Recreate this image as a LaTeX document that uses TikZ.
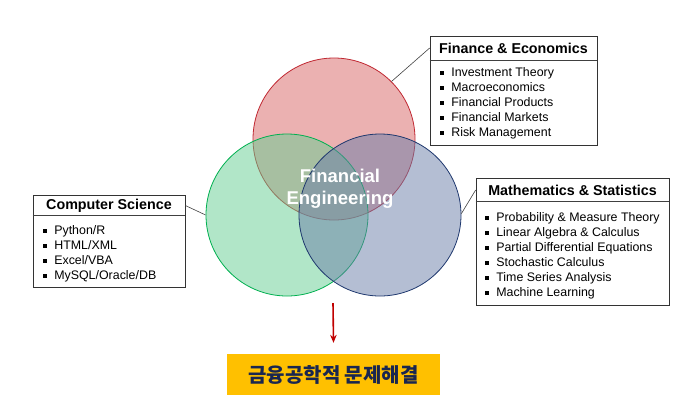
\documentclass[tikz,border=0pt]{standalone}
\usepackage{fontspec}
\setmainfont{Liberation Sans}
\newfontfamily\kr{Noto Sans CJK KR}
\usetikzlibrary{calc,arrows.meta}
\definecolor{redE}{RGB}{192,40,50}
\definecolor{redF}{RGB}{215,100,100}
\definecolor{grnE}{RGB}{0,176,80}
\definecolor{grnF}{RGB}{100,205,145}
\definecolor{bluE}{RGB}{31,56,110}
\definecolor{bluF}{RGB}{105,125,168}
\definecolor{gold}{RGB}{255,192,0}
\definecolor{navy}{RGB}{25,38,80}
\definecolor{arr}{RGB}{192,0,0}
\newcommand{\itm}{\rule[0.25ex]{3.6pt}{3.6pt}\hspace{7.5pt}}
\tikzset{
  venn/.style={circle, minimum size=162pt, inner sep=0pt, line width=0.8pt, fill opacity=0.5},
  infobox/.style={draw=black!80, line width=0.7pt, inner sep=0pt},
  headtxt/.style={font=\bfseries\fontsize{14.3}{16}\selectfont},
  listtxt/.style={font=\fontsize{12.4}{15}\selectfont, align=left, inner sep=0pt, anchor=west},
  link/.style={draw=black!75, line width=0.6pt}
}
\begin{document}
\begin{tikzpicture}[x=1pt,y=-1pt]
\useasboundingbox (0,0) rectangle (700,416);
% circles
\node[venn, draw=redE, fill=redF] (r) at (334,139) {};
\node[venn, draw=grnE, fill=grnF] (g) at (287,215) {};
\node[venn, draw=bluE, fill=bluF] (b) at (380,215) {};
\node[text=white, font=\bfseries\fontsize{18.5}{21.5}\selectfont, align=center] (fe) at (340,188.5) {Financial\\Engineering};
% Finance & Economics
\node[infobox, minimum width=167pt, minimum height=109pt] (fb) at (513.5,90.5) {};
\node[headtxt] (fbh) at (513.5,48) {Finance \& Economics};
\draw[link] (fb.west |- 0,60) -- (fb.east |- 0,60);
\node[listtxt] (fbl) at (440,103.3) {\itm Investment Theory\\\itm Macroeconomics\\\itm Financial Products\\\itm Financial Markets\\\itm Risk Management};
% Mathematics & Statistics
\node[infobox, minimum width=193pt, minimum height=127pt] (mb) at (572.5,241.5) {};
\node[headtxt] (mbh) at (572.5,190) {Mathematics \& Statistics};
\draw[link] (mb.west |- 0,201) -- (mb.east |- 0,201);
\node[listtxt] (mbl) at (485,255.8) {\itm Probability \& Measure Theory\\\itm Linear Algebra \& Calculus\\\itm Partial Differential Equations\\\itm Stochastic Calculus\\\itm Time Series Analysis\\\itm Machine Learning};
% Computer Science
\node[infobox, minimum width=152pt, minimum height=92pt] (cb) at (109,241) {};
\node[headtxt] (cbh) at (109,205.5) {Computer Science};
\draw[link] (cb.west |- 0,215) -- (cb.east |- 0,215);
\node[listtxt] (cbl) at (43,253.8) {\itm Python/R\\\itm HTML/XML\\\itm Excel/VBA\\\itm MySQL/Oracle/DB};
% connectors
\draw[link] (r.45) -- (fb.west |- fbh);
\draw[link] (b.1) -- (mb.west |- mbh);
\draw[link] (g.180) -- (cb.east |- cbh);
% goal
\node[fill=gold, minimum width=213pt, minimum height=41pt, inner sep=0pt, text=navy, font=\kr\bfseries\fontsize{20}{22}\selectfont] (goal) at (333.5,374.5) {금융공학적 문제해결};
\coordinate (as) at (333,303);
\draw[arr, line width=1.6pt, -{Stealth[length=8pt,width=6.5pt]}] (as) -- ($(goal.north)+(0,-11)$);
\end{tikzpicture}
\end{document}
